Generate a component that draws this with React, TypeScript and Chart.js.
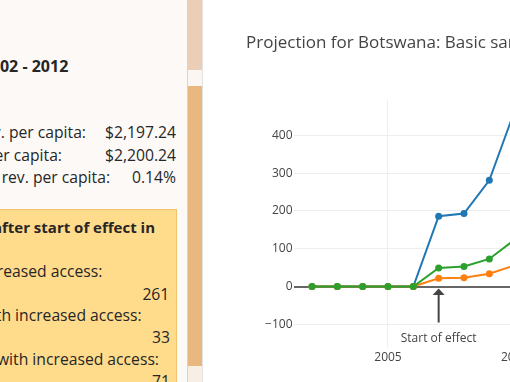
import React, { useEffect, useRef } from "react";
import { Chart, registerables } from "chart.js";

Chart.register(...registerables);

// ---- data ----
const years = [2002, 2003, 2004, 2005, 2006, 2007, 2008, 2009, 2010];
const totalSeries = [0, 0, 0, 0, 0, 186, 193, 281, 465];
const urbanSeries = [0, 0, 0, 0, 0, 22, 23, 34, 56];
const ruralSeries = [0, 0, 0, 0, 0, 49, 53, 73, 124];
const xTicks = [2005, 2010];
const yTicks = [-100, 0, 100, 200, 300, 400];
const effectYear = 2007;
const chartTitle = "Projection for Botswana: Basic sanitation";

const FONT = "'Open Sans', sans-serif";

function TextLine(props: {
  right: number;
  baseline: number;
  size?: number;
  bold?: boolean;
  children: React.ReactNode;
}) {
  const size = props.size ?? 15.7;
  const lh = Math.round(size * 1.4);
  const offset = (lh - 1.362 * size) / 2 + 1.069 * size;
  return (
    <div
      style={{
        position: "absolute",
        right: 510 - props.right,
        top: props.baseline - offset,
        fontSize: size,
        lineHeight: lh + "px",
        fontWeight: props.bold ? 700 : 400,
        whiteSpace: "nowrap",
        color: "#262626",
        fontFamily: FONT,
      }}
    >
      {props.children}
    </div>
  );
}

export default function App() {
  const canvasRef = useRef<HTMLCanvasElement>(null);

  useEffect(() => {
    document.body.style.overflow = "hidden";
    const family = FONT;
    const common = {
      borderWidth: 2,
      pointRadius: 3.5,
      pointBorderWidth: 0,
      tension: 0,
      fill: false,
    };
    const toPts = (arr: number[]) => years.map((yr, i) => ({ x: yr, y: arr[i] }));

    const annotationPlugin = {
      id: "startOfEffect",
      afterDatasetsDraw(chart: any) {
        const { ctx, scales } = chart;
        const x = scales.x.getPixelForValue(effectYear);
        const tip = scales.y.getPixelForValue(0) + 2;
        ctx.save();
        ctx.strokeStyle = "#444";
        ctx.fillStyle = "#444";
        ctx.lineWidth = 2;
        ctx.beginPath();
        ctx.moveTo(x, tip + 5);
        ctx.lineTo(x, tip + 34);
        ctx.stroke();
        ctx.beginPath();
        ctx.moveTo(x, tip);
        ctx.lineTo(x - 6, tip + 6.5);
        ctx.lineTo(x + 6, tip + 6.5);
        ctx.closePath();
        ctx.fill();
        ctx.font = "12px " + family;
        ctx.textAlign = "center";
        ctx.textBaseline = "alphabetic";
        ctx.fillText("Start of effect", x, tip + 53.5);
        ctx.restore();
      },
    };

    const chart = new Chart(canvasRef.current as HTMLCanvasElement, {
      type: "line",
      data: {
        datasets: [
          { label: "Rural", data: toPts(ruralSeries), borderColor: "#2ca02c", backgroundColor: "#2ca02c", pointBackgroundColor: "#2ca02c", ...common },
          { label: "Urban", data: toPts(urbanSeries), borderColor: "#ff7f0e", backgroundColor: "#ff7f0e", pointBackgroundColor: "#ff7f0e", ...common },
          { label: "Total", data: toPts(totalSeries), borderColor: "#1f77b4", backgroundColor: "#1f77b4", pointBackgroundColor: "#1f77b4", ...common },
        ],
      },
      options: {
        animation: false,
        responsive: false,
        layout: { padding: { left: 26, right: 20, top: 0, bottom: 0 } },
        plugins: {
          legend: { display: false },
          tooltip: { enabled: false },
          title: {
            display: true,
            text: chartTitle,
            align: "start",
            color: "#444",
            font: { size: 17, weight: "normal", family },
            padding: { top: 33, bottom: 46.6 },
          },
        },
        scales: {
          x: {
            type: "linear",
            min: 2001.289,
            max: 2013.37,
            afterBuildTicks: (s: any) => {
              s.ticks = xTicks.map((v) => ({ value: v }));
            },
            afterFit: (s: any) => {
              s.height = 35;
            },
            ticks: {
              color: "#444",
              font: { size: 12, family },
              padding: 3,
              maxRotation: 0,
              autoSkip: false,
              callback: (v: any) => String(v),
            },
            grid: { color: "#eee", lineWidth: 1, drawTicks: false },
            border: { display: false },
          },
          y: {
            type: "linear",
            min: -160,
            max: 493.4,
            afterBuildTicks: (s: any) => {
              s.ticks = yTicks.map((v) => ({ value: v }));
            },
            afterFit: (s: any) => {
              s.width = 48;
            },
            ticks: {
              color: "#444",
              font: { size: 12, family },
              padding: 1.5,
              callback: (v: any) => (v < 0 ? "\u2212" + Math.abs(v) : String(v)),
            },
            grid: {
              color: (c: any) => (c.tick && c.tick.value === 0 ? "#666" : "#eee"),
              lineWidth: (c: any) => (c.tick && c.tick.value === 0 ? 2 : 1),
              drawTicks: false,
            },
            border: { display: false },
          },
        },
      } as any,
      plugins: [annotationPlugin],
    });
    return () => chart.destroy();
  }, []);

  return (
    <div
      style={{
        position: "fixed",
        left: 0,
        top: 0,
        width: 510,
        height: 382,
        overflow: "hidden",
        background: "#fff",
        fontFamily: FONT,
      }}
    >
      {/* left info panel */}
      <div style={{ position: "absolute", left: 0, top: 0, width: 187, height: 382, background: "#fcf9f7" }} />
      <TextLine right={68.3} baseline={72.7} size={16} bold>
        Period: 2002 - 2012
      </TextLine>
      <TextLine right={86} baseline={138.3}>Baseline gov. rev. per capita:</TextLine>
      <TextLine right={176} baseline={138.3}>$2,197.24</TextLine>
      <TextLine right={62} baseline={160.7}>Projected gov. rev. per capita:</TextLine>
      <TextLine right={176} baseline={160.7}>$2,200.24</TextLine>
      <TextLine right={110} baseline={182.7}>Change in gov. rev. per capita:</TextLine>
      <TextLine right={176} baseline={182.7}>0.14%</TextLine>

      <div
        style={{
          position: "absolute",
          left: -10,
          top: 209,
          width: 185,
          height: 200,
          background: "#ffdb8c",
          border: "1px solid #f2c36c",
        }}
      />
      <TextLine right={155} baseline={233.3} size={15} bold>
        Deaths averted 5 years after start of effect in
      </TextLine>
      <TextLine right={102.3} baseline={277.3}>Total with increased access:</TextLine>
      <TextLine right={169.3} baseline={300}>261</TextLine>
      <TextLine right={141.7} baseline={321}>Urban with increased access:</TextLine>
      <TextLine right={170} baseline={343.3}>33</TextLine>
      <TextLine right={159} baseline={365}>Rural with increased access:</TextLine>
      <TextLine right={170} baseline={387}>71</TextLine>

      {/* decorative strip */}
      <div style={{ position: "absolute", left: 187, top: 0, width: 1, height: 382, background: "#d9d4cf" }} />
      <div style={{ position: "absolute", left: 188, top: 0, width: 14, height: 70, background: "#ebceb5" }} />
      <div style={{ position: "absolute", left: 188, top: 70, width: 14, height: 16, background: "#fbf6f1" }} />
      <div style={{ position: "absolute", left: 188, top: 86, width: 14, height: 280, background: "#e9b880" }} />
      <div style={{ position: "absolute", left: 188, top: 366, width: 14, height: 16, background: "#f7efe6" }} />
      <div style={{ position: "absolute", left: 202, top: 0, width: 1, height: 382, background: "#e2e2e2" }} />

      {/* chart */}
      <canvas
        ref={canvasRef}
        width={400}
        height={382}
        style={{ position: "absolute", left: 220, top: 0, width: 400, height: 382 }}
      />
    </div>
  );
}
